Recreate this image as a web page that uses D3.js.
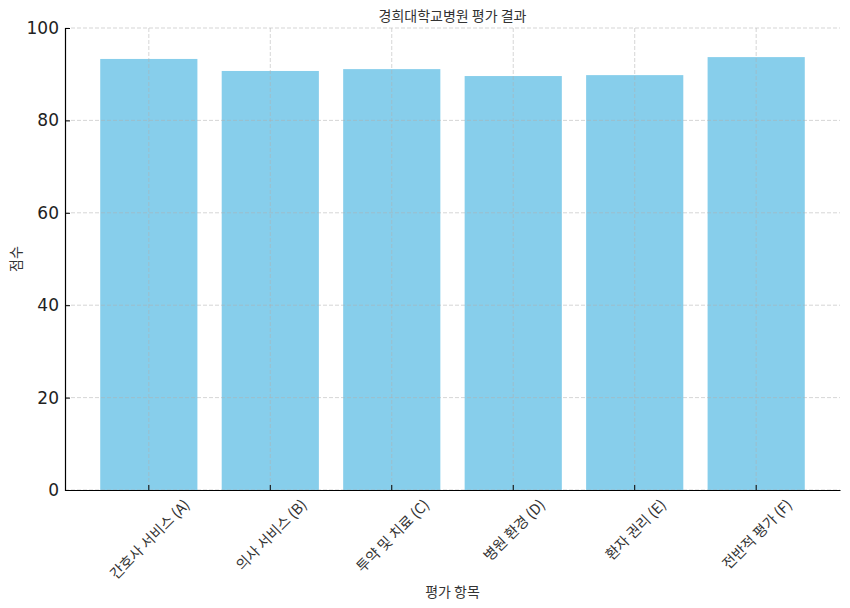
<!DOCTYPE html>
<html>
<head>
<meta charset="utf-8">
<script src="https://cdn.jsdelivr.net/npm/d3@7"></script>
<style>
  body { margin: 0; background: #fff; }
  svg text { fill: #222; }
</style>
</head>
<body>
<div id="chart"></div>
<script>
// chart data
var categories = ["간호사 서비스 (A)", "의사 서비스 (B)", "투약 및 치료 (C)", "병원 환경 (D)", "환자 권리 (E)", "전반적 평가 (F)"];
var scores = [93.3, 90.7, 91.1, 89.6, 89.8, 93.7];
var yTicks = [0, 20, 40, 60, 80, 100];

var width = 850, height = 608;
var margin = {top: 28, right: 10, bottom: 118, left: 65};
var korFont = "'Noto Sans CJK KR', 'DejaVu Sans', sans-serif";

var svg = d3.select("#chart").append("svg")
  .attr("width", width)
  .attr("height", height);

var x = d3.scaleBand()
  .domain(categories)
  .range([margin.left, width - margin.right])
  .paddingInner(0.2)
  .paddingOuter(0.29);

var y = d3.scaleLinear()
  .domain([0, 100])
  .range([height - margin.bottom, margin.top]);

// bars
svg.append("g").selectAll("rect")
  .data(categories)
  .enter().append("rect")
  .attr("x", function(d) { return x(d); })
  .attr("y", function(d, i) { return y(scores[i]); })
  .attr("width", x.bandwidth())
  .attr("height", function(d, i) { return y(0) - y(scores[i]); })
  .style("fill", "#87ceeb");

// grid (drawn above bars)
var grid = svg.append("g")
  .style("stroke", "#b0b0b0")
  .style("stroke-opacity", 0.65)
  .style("stroke-width", 0.8)
  .style("stroke-dasharray", "4,2");

grid.selectAll(".hgrid")
  .data(yTicks)
  .enter().append("line")
  .attr("x1", margin.left)
  .attr("x2", width - margin.right)
  .attr("y1", function(d) { return y(d); })
  .attr("y2", function(d) { return y(d); });

grid.selectAll(".vgrid")
  .data(categories)
  .enter().append("line")
  .attr("x1", function(d) { return x(d) + x.bandwidth() / 2; })
  .attr("x2", function(d) { return x(d) + x.bandwidth() / 2; })
  .attr("y1", y(100))
  .attr("y2", y(0));

// y axis
var yAxis = svg.append("g")
  .attr("transform", "translate(" + margin.left + ",0)")
  .call(d3.axisLeft(y).tickValues(yTicks).tickSize(-5).tickPadding(6));
yAxis.select(".domain").attr("stroke", "#000").attr("stroke-width", 1.2);
yAxis.selectAll(".tick line").attr("stroke", "#000").attr("stroke-width", 1);
yAxis.selectAll("text")
  .style("font-family", "'DejaVu Sans', sans-serif")
  .style("font-size", "17px")
  .style("fill", "#222");

// x axis
var xAxis = svg.append("g")
  .attr("transform", "translate(0," + y(0) + ")")
  .call(d3.axisBottom(x).tickSize(-5).tickSizeOuter(0).tickFormat(""));
xAxis.select(".domain").attr("stroke", "#000").attr("stroke-width", 1.2);
xAxis.selectAll(".tick line").attr("stroke", "#000").attr("stroke-width", 1);

// rotated x labels, centred on the tick like matplotlib
var labelTop = y(0) + 6;
var fs = 14.5;
svg.append("g").selectAll("text")
  .data(categories)
  .enter().append("text")
  .text(function(d) { return d; })
  .style("font-family", korFont)
  .style("font-size", fs + "px")
  .style("fill", "#333")
  .attr("text-anchor", "middle")
  .attr("dominant-baseline", "central")
  .attr("transform", function(d) {
    var w = this.getComputedTextLength();
    var half = (w + fs) * Math.SQRT1_2 / 2;
    var cx = x(d) + x.bandwidth() / 2;
    return "translate(" + cx + "," + (labelTop + half) + ") rotate(-45)";
  });

// title and axis labels
svg.append("text")
  .attr("x", (margin.left + width - margin.right) / 2)
  .attr("y", 15)
  .attr("text-anchor", "middle")
  .attr("dominant-baseline", "central")
  .style("font-family", korFont)
  .style("font-size", "14px")
  .style("fill", "#333")
  .text("경희대학교병원 평가 결과");

svg.append("text")
  .attr("x", (margin.left + width - margin.right) / 2)
  .attr("y", 591)
  .attr("text-anchor", "middle")
  .attr("dominant-baseline", "central")
  .style("font-family", korFont)
  .style("font-size", "14px")
  .style("fill", "#333")
  .text("평가 항목");

svg.append("text")
  .attr("transform", "translate(15," + (margin.top + y(0)) / 2 + ") rotate(-90)")
  .attr("text-anchor", "middle")
  .attr("dominant-baseline", "central")
  .style("font-family", korFont)
  .style("font-size", "14px")
  .style("fill", "#333")
  .text("점수");
</script>
</body>
</html>
